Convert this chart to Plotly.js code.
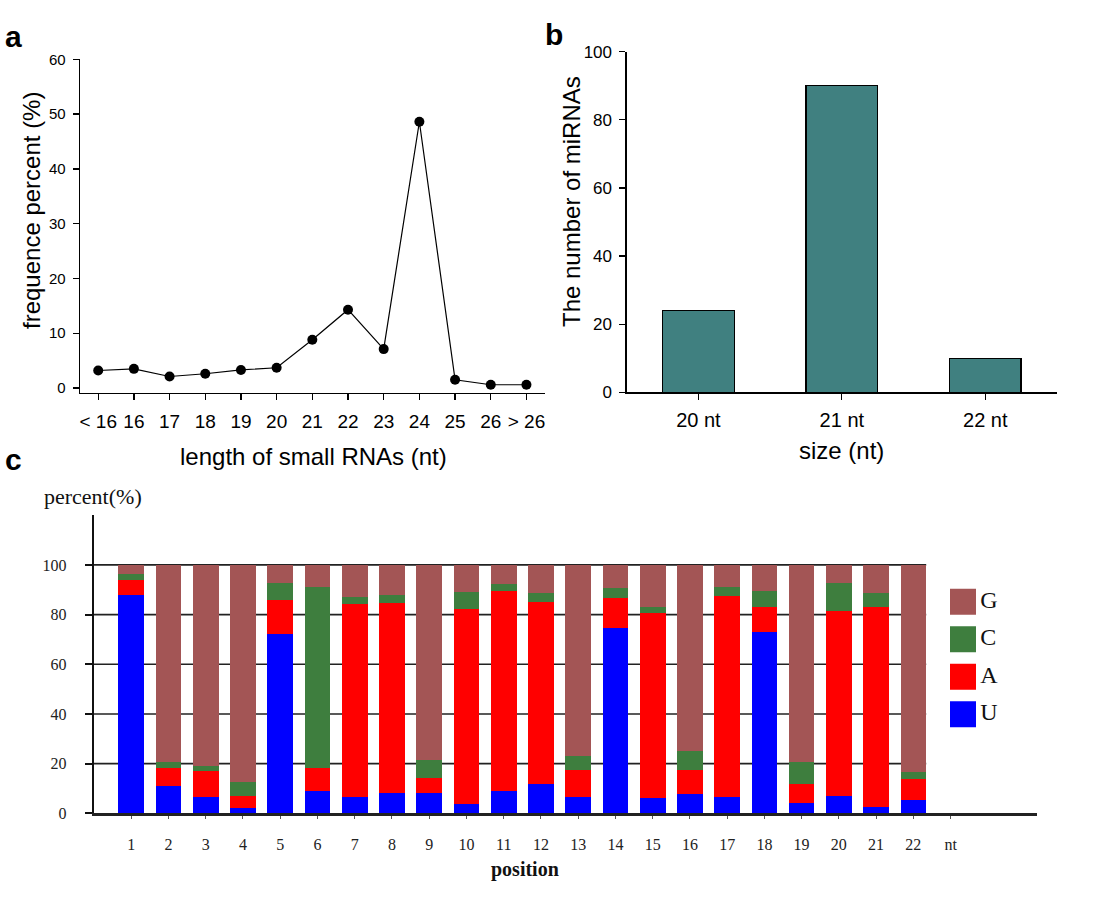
<!DOCTYPE html>
<html><head><meta charset="utf-8">
<script src="https://cdn.plot.ly/plotly-3.0.1.min.js"></script>
<style>html,body{margin:0;padding:0;background:#fff}#chart{width:1100px;height:900px}</style>
</head><body><div id="chart"></div>
<script>
// ---- Panel a: length distribution of small RNAs ----
const lengthLabels = ['< 16','16','17','18','19','20','21','22','23','24','25','26','> 26'];
const lengthPercent = [3.2,3.5,2.1,2.6,3.3,3.7,8.8,14.3,7.1,48.6,1.5,0.6,0.6];

// ---- Panel b: number of miRNAs by size ----
const sizeLabels = ['20 nt','21 nt','22 nt'];
const miRNACounts = [24,90,10];

// ---- Panel c: nucleotide composition by position ----
const positions = [1,2,3,4,5,6,7,8,9,10,11,12,13,14,15,16,17,18,19,20,21,22];
const positionUnit = 'nt';
const pctU = [87.7,11.0,6.4,2.0,72.1,9.0,6.4,8.1,8.1,3.8,9.1,11.7,6.4,74.8,6.3,7.8,6.4,73.0,4.3,7.1,2.7,5.2];
const pctA = [6.3,7.1,10.6,5.1,13.8,9.1,77.8,76.5,6.0,78.3,80.6,73.5,11.0,11.8,74.2,9.6,81.1,10.0,7.6,74.4,80.3,8.5];
const pctC = [2.2,2.4,2.1,5.5,6.7,73.2,2.8,3.1,7.4,7.0,2.5,3.4,5.7,4.3,2.5,7.8,3.5,6.5,8.9,11.4,5.6,3.1];
const pctG = [3.8,79.5,80.9,87.4,7.4,8.7,13.0,12.3,78.5,10.9,7.8,11.4,76.9,9.1,17.0,74.8,9.0,10.5,79.2,7.1,11.4,83.2];
const baseNames = ['U','A','C','G'];
const percentTicks = [0,20,40,60,80,100];

const W = 1100, H = 900;
const px = v => v / W;
const py = v => 1 - v / H;

const sans = 'Liberation Sans, Arial, sans-serif';
const serif = 'Liberation Serif, Times New Roman, serif';
const baseColors = {U:'#0000ff', A:'#ff0000', C:'#3e7e3e', G:'#a35555'};
const compSeries = {U:pctU, A:pctA, C:pctC, G:pctG};
const barW = 0.69;

const traces = [];
traces.push({
  type:'scatter', mode:'lines+markers', x:lengthLabels, y:lengthPercent,
  xaxis:'x', yaxis:'y', line:{color:'#000', width:1.2},
  marker:{color:'#000', size:10}, cliponaxis:false, hoverinfo:'x+y'
});
traces.push({
  type:'bar', x:sizeLabels, y:miRNACounts, xaxis:'x2', yaxis:'y2', width:0.5,
  marker:{color:'#408080', line:{color:'#000', width:1.3}}
});
baseNames.forEach(b => {
  traces.push({
    type:'bar', name:b, x:positions, y:compSeries[b], xaxis:'x3', yaxis:'y3',
    width:barW, marker:{color:baseColors[b], line:{width:0}}
  });
});
// custom legend for panel c (top to bottom: G, C, A, U)
const legendOrder = baseNames.slice().reverse();
traces.push({
  type:'scatter', mode:'markers+text', xaxis:'x4', yaxis:'y4',
  x: legendOrder.map(() => 0.5),
  y: legendOrder.map((_, i) => legendOrder.length - 1 - i),
  text: legendOrder, textposition:'middle right',
  textfont:{family:serif, size:24, color:'#111'},
  marker:{symbol:'square', size:26, color:legendOrder.map(b => baseColors[b]), line:{width:0}},
  cliponaxis:false, hoverinfo:'skip'
});

const shapes = percentTicks.filter(v => v > 0).map(v => ({
  type:'line', xref:'x3', yref:'y3', x0:0, x1:positions.length + barW/2, y0:v, y1:v,
  line:{color:'#222', width:1.6}, layer:'below'
}));

const axBase = {showline:true, linecolor:'#000', showgrid:false, zeroline:false,
  ticks:'outside', tickcolor:'#000', fixedrange:true};

const layout = {
  width:W, height:H, margin:{l:0, r:0, t:0, b:0},
  paper_bgcolor:'#fff', plot_bgcolor:'rgba(0,0,0,0)',
  showlegend:false, barmode:'stack',
  font:{family:sans, color:'#000'},
  xaxis:Object.assign({}, axBase, {domain:[px(80), px(545)], anchor:'y', type:'category',
    range:[-0.51, 12.52], linewidth:1.3, ticklen:6, tickwidth:1.3,
    tickfont:{family:sans, size:19}, ticklabelstandoff:5}),
  yaxis:Object.assign({}, axBase, {domain:[py(393), py(59.3)], anchor:'x',
    range:[-0.91, 60], dtick:10, linewidth:1.3, ticklen:6, tickwidth:1.3,
    tickfont:{family:sans, size:15}, ticklabelstandoff:4}),
  xaxis2:Object.assign({}, axBase, {domain:[px(626.7), px(1057)], anchor:'y2', type:'category',
    range:[-0.5, 2.5], linewidth:1.3, ticklen:6, tickwidth:1.3,
    tickfont:{family:sans, size:20}, ticklabelstandoff:3}),
  yaxis2:Object.assign({}, axBase, {domain:[py(392.3), py(51.7)], anchor:'x2',
    range:[0, 100], dtick:20, linewidth:1.3, ticklen:6, tickwidth:1.3,
    tickfont:{family:sans, size:17}, ticklabelstandoff:4}),
  xaxis3:Object.assign({}, axBase, {domain:[px(94), px(1037)], anchor:'y3',
    range:[0, 25.32], tickvals:positions.concat([positions.length + 1]),
    ticktext:positions.map(String).concat([positionUnit]),
    linecolor:'#222', linewidth:3, ticklen:3, tickwidth:1, tickcolor:'#555',
    tickfont:{family:serif, size:16, color:'#222'}, ticklabelstandoff:11}),
  yaxis3:Object.assign({}, axBase, {domain:[py(813.3), py(515)], anchor:'x3',
    range:[0, 120.1], tickvals:percentTicks, linecolor:'#111', linewidth:2.2,
    ticklen:7, tickwidth:2, tickcolor:'#111',
    tickfont:{family:serif, size:16, color:'#222'}, ticklabelstandoff:15}),
  xaxis4:{domain:[px(950), px(976)], anchor:'y4', range:[0,1], visible:false, fixedrange:true},
  yaxis4:{domain:[py(733), py(583)], anchor:'x4', range:[-0.5, 3.5], visible:false, fixedrange:true},
  shapes:shapes,
  annotations:[
    {text:'<b>a</b>', xref:'paper', yref:'paper', x:px(3), y:py(36), xanchor:'left', yanchor:'middle', showarrow:false, font:{family:sans, size:30}},
    {text:'<b>b</b>', xref:'paper', yref:'paper', x:px(543), y:py(34), xanchor:'left', yanchor:'middle', showarrow:false, font:{family:sans, size:30}},
    {text:'<b>c</b>', xref:'paper', yref:'paper', x:px(3), y:py(460), xanchor:'left', yanchor:'middle', showarrow:false, font:{family:sans, size:30}},
    {text:'frequence percent (%)', xref:'paper', yref:'paper', x:px(31), y:py(211), textangle:-90, xanchor:'center', yanchor:'middle', showarrow:false, font:{family:sans, size:24}},
    {text:'length of small RNAs (nt)', xref:'paper', yref:'paper', x:px(313), y:py(456), xanchor:'center', yanchor:'middle', showarrow:false, font:{family:sans, size:24}},
    {text:'The number of miRNAs', xref:'paper', yref:'paper', x:px(571), y:py(202), textangle:-90, xanchor:'center', yanchor:'middle', showarrow:false, font:{family:sans, size:24}},
    {text:'size (nt)', xref:'paper', yref:'paper', x:px(841), y:py(451), xanchor:'center', yanchor:'middle', showarrow:false, font:{family:sans, size:24}},
    {text:'percent(%)', xref:'paper', yref:'paper', x:px(42), y:py(497), xanchor:'left', yanchor:'middle', showarrow:false, font:{family:serif, size:22, color:'#111'}},
    {text:'<b>position</b>', xref:'paper', yref:'paper', x:px(525), y:py(869), xanchor:'center', yanchor:'middle', showarrow:false, font:{family:serif, size:20, color:'#111'}}
  ]
};

Plotly.newPlot('chart', traces, layout, {staticPlot:true, displayModeBar:false});
</script>
</body></html>
